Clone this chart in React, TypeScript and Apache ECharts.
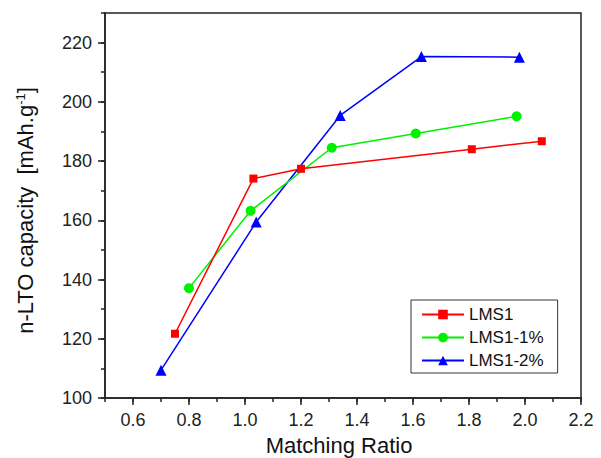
import React, { useEffect, useRef } from "react";
import * as echarts from "echarts";

const seriesNames = ["LMS1", "LMS1-1%", "LMS1-2%"];
const lms1X = [0.75, 1.03, 1.2, 1.81, 2.06];
const lms1Y = [121.7, 174.1, 177.4, 184.0, 186.7];
const lms1p1X = [0.8, 1.02, 1.31, 1.61, 1.97];
const lms1p1Y = [137.1, 163.2, 184.5, 189.3, 195.1];
const lms1p2X = [0.7, 1.04, 1.34, 1.63, 1.98];
const lms1p2Y = [109.4, 159.4, 195.4, 215.3, 215.1];
const xTickValues = [0.6, 0.8, 1.0, 1.2, 1.4, 1.6, 1.8, 2.0, 2.2];
const colors = ["#ff0000", "#00f000", "#0000ff"];
const symbols = ["rect", "circle", "triangle"];
const symbolSizes = [8, 10, 11];

const FONT = 'Arial, "Liberation Sans", sans-serif';

export default function App() {
  const ref = useRef<HTMLDivElement>(null);
  useEffect(() => {
    if (!ref.current) return;
    const chart = echarts.init(ref.current, null, { renderer: "svg" });
    const xs = [lms1X, lms1p1X, lms1p2X];
    const ys = [lms1Y, lms1p1Y, lms1p2Y];
    const series = seriesNames.map((name, i) => ({
      name,
      type: "line",
      xAxisIndex: 0,
      yAxisIndex: 0,
      data: xs[i].map((x, j) => [x, ys[i][j]]),
      symbol: symbols[i],
      symbolSize: symbolSizes[i],
      lineStyle: { color: colors[i], width: 1.5 },
      itemStyle: { color: colors[i] },
      z: 3 - i,
    }));
    const axisColor = "#222";
    chart.setOption({
      animation: false,
      backgroundColor: "#fff",
      grid: {
        left: 105,
        right: 20,
        top: 13,
        bottom: 60,
        containLabel: false,
        outerBoundsMode: "none",
        show: true,
        borderColor: axisColor,
        borderWidth: 1.5,
      },
      legend: {
        orient: "vertical",
        left: 411,
        top: 300,
        padding: [6, 14, 4, 10],
        itemWidth: 42,
        itemHeight: 12,
        itemGap: 6,
        borderColor: "#333",
        borderWidth: 1,
        backgroundColor: "#fff",
        data: seriesNames,
        textStyle: { fontSize: 17, color: "#111", fontFamily: FONT },
      },
      xAxis: [
        {
          type: "value",
          min: 0.5,
          max: 2.2,
          position: "bottom",
          name: "Matching Ratio",
          nameLocation: "middle",
          nameGap: 36,
          nameTextStyle: { fontSize: 22, color: "#111", fontFamily: FONT, padding: [0, 8, 0, 0] },
          axisLine: { show: true, lineStyle: { color: axisColor, width: 1.5 } },
          axisTick: {
            show: true,
            length: 7,
            customValues: xTickValues,
            lineStyle: { color: axisColor, width: 1.5 },
          },
          axisLabel: {
            fontSize: 18,
            color: "#222",
            fontFamily: FONT,
            margin: 13,
            customValues: xTickValues,
            formatter: (v: number) => v.toFixed(1),
          },
          splitLine: { show: false },
        },
        {
          type: "value",
          min: 0.5,
          max: 2.2,
          interval: 0.1,
          position: "bottom",
          axisLine: { show: false },
          axisTick: { show: true, length: 4, lineStyle: { color: axisColor, width: 1.5 } },
          axisLabel: { show: false },
          splitLine: { show: false },
        },
      ],
      yAxis: [
        {
          type: "value",
          min: 100,
          max: 230,
          interval: 20,
          position: "left",
          name: "n-LTO capacity  [mAh.g{sup|-1}]",
          nameLocation: "middle",
          nameGap: 69,
          nameRotate: 90,
          nameTextStyle: {
            fontSize: 22,
            color: "#111",
            fontFamily: FONT,
            padding: [0, 10, 0, 0],
            rich: {
              sup: { fontSize: 13, verticalAlign: "top", color: "#111", fontFamily: FONT },
            },
          },
          axisLine: { show: true, lineStyle: { color: axisColor, width: 1.5 } },
          axisTick: { show: true, length: 7, lineStyle: { color: axisColor, width: 1.5 } },
          axisLabel: {
            fontSize: 18,
            color: "#222",
            fontFamily: FONT,
            margin: 13,
            showMaxLabel: false,
          },
          splitLine: { show: false },
        },
        {
          type: "value",
          min: 100,
          max: 230,
          interval: 10,
          position: "left",
          axisLine: { show: false },
          axisTick: { show: true, length: 4, lineStyle: { color: axisColor, width: 1.5 } },
          axisLabel: { show: false },
          splitLine: { show: false },
        },
      ],
      series,
    });
    return () => chart.dispose();
  }, []);
  return (
    <div
      ref={ref}
      style={{ position: "fixed", left: 0, top: 0, width: 601, height: 458 }}
    />
  );
}
